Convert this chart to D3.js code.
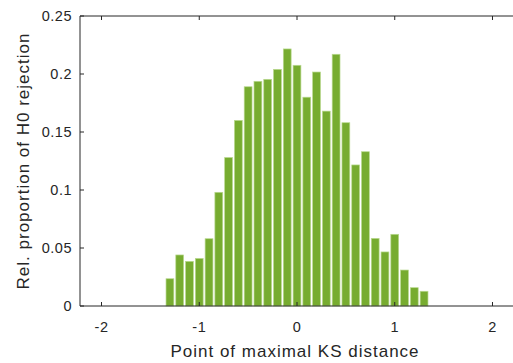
<!DOCTYPE html>
<html>
<head>
<meta charset="utf-8">
<script src="https://cdn.jsdelivr.net/npm/d3@7"></script>
<style>
  body { margin: 0; background: #fff; }
  svg text { font-family: "Liberation Sans", Arial, sans-serif; fill: #262626; }
</style>
</head>
<body>
<div class="chart"></div>
<script>
// bin centres and relative proportions
const binCenters = [-1.3, -1.2, -1.1, -1.0, -0.9, -0.8, -0.7, -0.6, -0.5, -0.4, -0.3, -0.2, -0.1,
  0.0, 0.1, 0.2, 0.3, 0.4, 0.5, 0.6, 0.7, 0.8, 0.9, 1.0, 1.1, 1.2, 1.3];
const proportions = [0.0235, 0.044, 0.0385, 0.041, 0.058, 0.098, 0.128, 0.160, 0.189, 0.1937, 0.1954, 0.204, 0.2216,
  0.2075, 0.180, 0.2017, 0.168, 0.217, 0.158, 0.1216, 0.133, 0.0583, 0.0466, 0.0618, 0.031, 0.0158, 0.0127];
const xTicks = [-2, -1, 0, 1, 2];
const yTicks = [0, 0.05, 0.1, 0.15, 0.2, 0.25];

const width = 513, height = 363;
const svg = d3.select('.chart').append('svg')
    .attr('width', width)
    .attr('height', height);

const x = d3.scaleLinear().domain([-2.22, 2.22]).range([80, 514]);
const y = d3.scaleLinear().domain([0, 0.25]).range([306, 16]);
const binW = 0.1;

// bars
svg.selectAll('rect.bar')
    .data(binCenters)
    .enter()
    .append('rect')
    .attr('class', 'bar')
    .attr('x', d => x(d - binW * 0.4))
    .attr('width', x(binW * 0.8) - x(0))
    .attr('y', (d, i) => y(proportions[i]))
    .attr('height', (d, i) => y(0) - y(proportions[i]))
    .attr('fill', '#77ac30')
    .attr('stroke', '#b9d98f')
    .attr('stroke-width', 0.7);

// box lines (left, bottom, top)
const axisColor = '#262626';
const g = svg.append('g').attr('stroke', axisColor).attr('stroke-width', 1).attr('fill', 'none');
g.append('line').attr('x1', x.range()[0]).attr('x2', x.range()[1]).attr('y1', y(0)).attr('y2', y(0));
g.append('line').attr('x1', x.range()[0]).attr('x2', x.range()[1]).attr('y1', y(0.25)).attr('y2', y(0.25));
g.append('line').attr('x1', x.range()[0]).attr('x2', x.range()[0]).attr('y1', y(0)).attr('y2', y(0.25));

// inward ticks
g.selectAll('line.xb').data(xTicks).enter().append('line')
    .attr('x1', d => x(d)).attr('x2', d => x(d))
    .attr('y1', y(0)).attr('y2', y(0) - 4);
g.selectAll('line.xt').data(xTicks).enter().append('line')
    .attr('x1', d => x(d)).attr('x2', d => x(d))
    .attr('y1', y(0.25)).attr('y2', y(0.25) + 4);
g.selectAll('line.yl').data(yTicks).enter().append('line')
    .attr('x1', x.range()[0]).attr('x2', x.range()[0] + 4)
    .attr('y1', d => y(d)).attr('y2', d => y(d));

// tick labels
svg.selectAll('text.xl').data(xTicks).enter().append('text')
    .attr('x', d => x(d))
    .attr('y', 332)
    .attr('text-anchor', 'middle')
    .attr('font-size', 14.5)
    .attr('letter-spacing', 0.5)
    .text(d => d < 0 ? '-' + Math.abs(d) : d);
svg.selectAll('text.yl').data(yTicks).enter().append('text')
    .attr('x', 72)
    .attr('y', d => y(d) + 5)
    .attr('text-anchor', 'end')
    .attr('font-size', 14.5)
    .attr('letter-spacing', 0.5)
    .text(d => d);

// axis titles
svg.append('text')
    .attr('x', 295)
    .attr('y', 357)
    .attr('text-anchor', 'middle')
    .attr('font-size', 17)
    .attr('letter-spacing', 1)
    .text('Point of maximal KS distance');
svg.append('text')
    .attr('transform', 'translate(29,161) rotate(-90)')
    .attr('text-anchor', 'middle')
    .attr('font-size', 17)
    .attr('letter-spacing', 1)
    .text('Rel. proportion of H0 rejection');
</script>
</body>
</html>
